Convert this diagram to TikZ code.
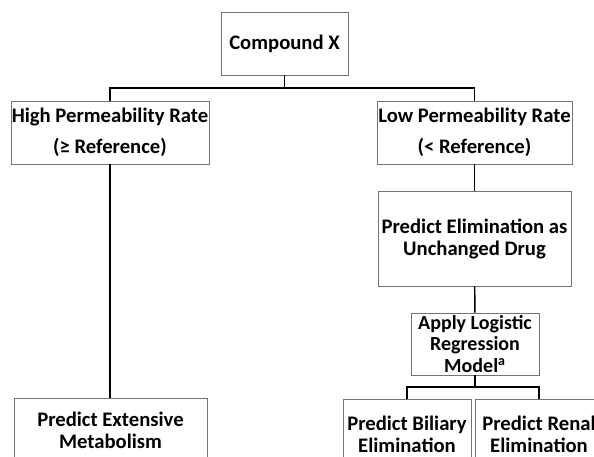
\documentclass[tikz,border=0pt]{standalone}
\usepackage{fontspec}
\setmainfont{Carlito}
\usetikzlibrary{positioning,calc,shadows}

\tikzset{
  box/.style={draw=black!55, line width=0.7pt, fill=white, align=center, inner sep=0pt,
    font=\fontsize{15.5}{16.5}\selectfont\bfseries,
    drop shadow={shadow xshift=0.6pt, shadow yshift=-0.6pt, opacity=0.25}},
  tallbox/.style={box, font=\fontsize{15.5}{23.25}\selectfont\bfseries},
  link/.style={line width=1.1pt}
}

\begin{document}
\begin{tikzpicture}[x=0.75pt,y=-0.75pt]
    \clip (0,0) rectangle (594,457);
    % first level
    \node[box, minimum width=95.25pt, minimum height=47.25pt] (cpd) at (284.5,43.5) {Compound X};
    \node[tallbox, minimum width=148.5pt, minimum height=47.25pt] (high) at (110,132.5) {High Permeability Rate\\(≥ Reference)};
    \node[tallbox, minimum width=146.25pt, minimum height=47.25pt] (low) at (474.5,132.5) {Low Permeability Rate\\(< Reference)};
    % left branch
    \node[box, minimum width=144.75pt, minimum height=48pt] (ext) at (110.5,430) {Predict Extensive\\Metabolism};
    % right branch
    \node[box, minimum width=144.75pt, minimum height=71.25pt] (elim) at (474.5,238.5) {Predict Elimination as\\Unchanged Drug};
    \node[box, minimum width=96pt, minimum height=46.5pt, font=\fontsize{15}{16}\selectfont\bfseries] (model) at (475,344) {Apply Logistic\\Regression\\Model\textsuperscript{a}};
    \foreach \n/\x/\t in {bil/407/Biliary, ren/539/Renal} {
        \node[box, minimum width=96pt, minimum height=52.5pt] (\n) at (\x,434) {Predict \t\\Elimination};
    }
    % connectors
    \coordinate (top) at (284.5,88);
    \coordinate (split) at (475,387);
    \draw[link] (cpd) -- (top);
    \draw[link] (high.north) |- (top) -| (low.north);
    \draw[link] (high.south) -- (high.south |- ext.north);
    \draw[link] (low) -- (elim);
    \draw[link] (elim) -- (model);
    \draw[link] (model) -- (split);
    \draw[link] (bil.north) |- (split) -| (ren.north);
\end{tikzpicture}
\end{document}
